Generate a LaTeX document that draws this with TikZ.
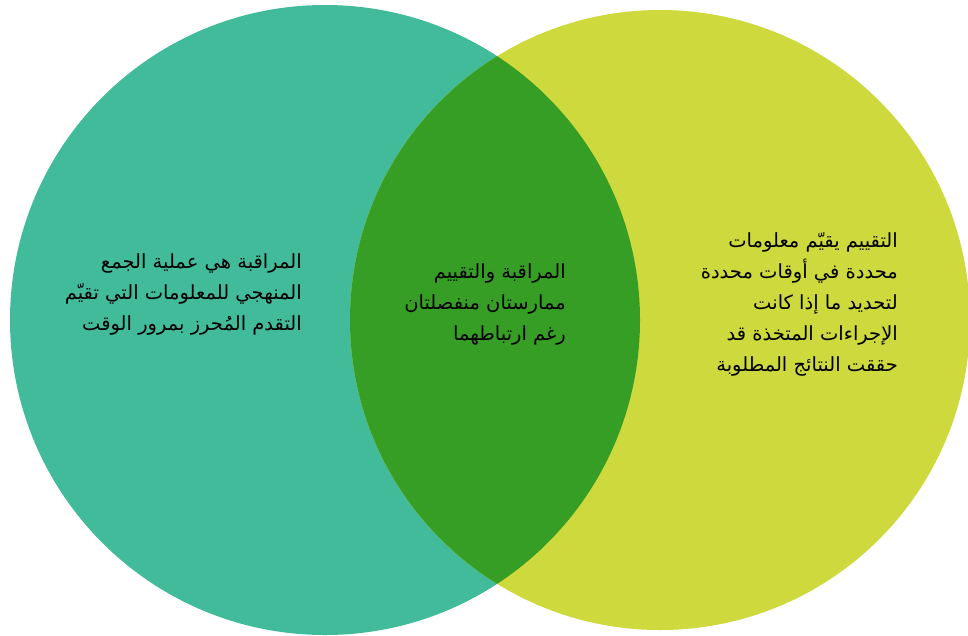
\documentclass[tikz,border=0pt]{standalone}
\usepackage{fontspec}
\newfontfamily\arabicfont[Script=Arabic]{DejaVu Sans}
\TeXXeTstate=1
\definecolor{tealc}{RGB}{65,187,153}
\definecolor{limec}{RGB}{205,217,61}
\definecolor{greenc}{RGB}{55,158,37}

\begin{document}
\begin{tikzpicture}[x=1pt, y=-1pt]
	\tikzstyle{every node}=[align=right, inner sep=0pt, anchor=east, font=\arabicfont\fontsize{19.5}{31}\selectfont]
	\useasboundingbox (0, 0) rectangle (968, 635);
	\fill[tealc] (325, 320) circle (315);
	\fill[limec] (660, 320) circle (310);
	\begin{scope}
		\clip (325, 320) circle (315);
		\fill[greenc] (660, 320) circle (310);
	\end{scope}

	\node (M) at (302, 294) {\beginR المراقبة هي عملية الجمع\endR\\ \beginR المنهجي للمعلومات التي تقيّم\endR\\ \beginR التقدم المُحرز بمرور الوقت\endR};
	\node (E) at (566, 304) {\beginR المراقبة والتقييم\endR\\ \beginR ممارستان منفصلتان\endR\\ \beginR رغم ارتباطهما\endR};
	\node (V) at (898, 304) {\beginR التقييم يقيّم معلومات\endR\\ \beginR محددة في أوقات محددة\endR\\ \beginR لتحديد ما إذا كانت\endR\\ \beginR الإجراءات المتخذة قد\endR\\ \beginR حققت النتائج المطلوبة\endR};
\end{tikzpicture}
\end{document}
